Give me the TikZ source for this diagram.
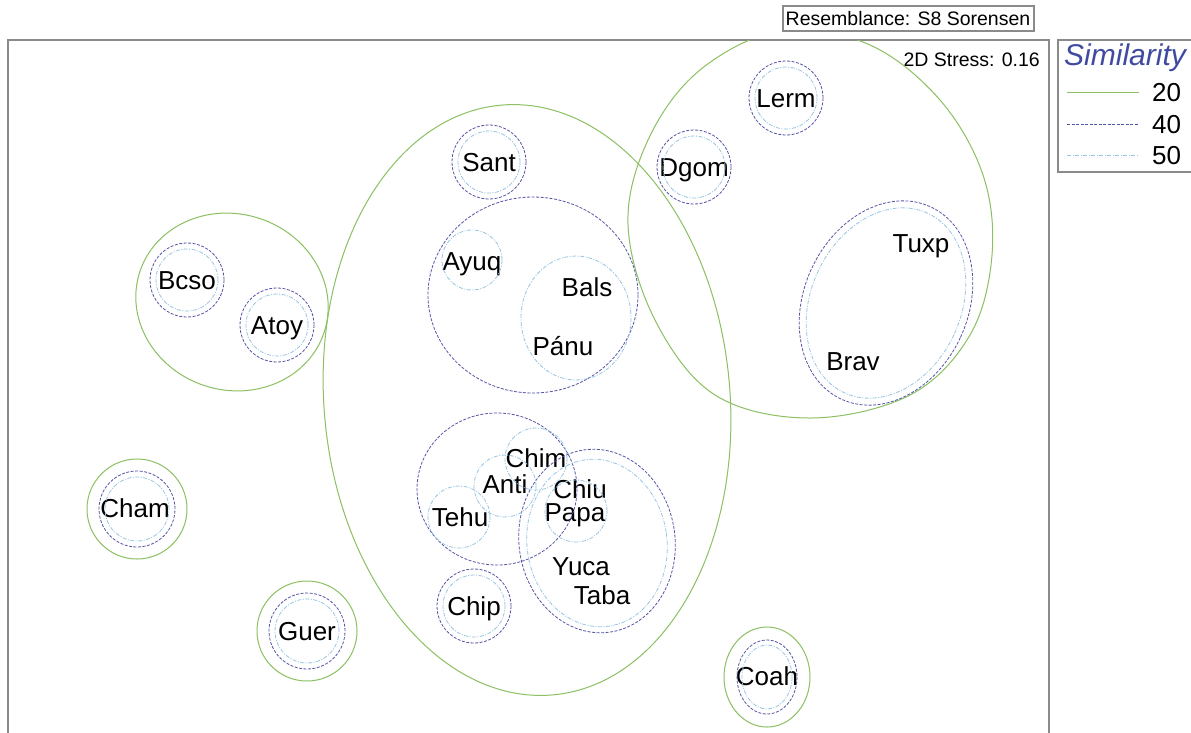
\documentclass[tikz,border=0pt]{standalone}
\usepackage{fontspec}
\setmainfont{Liberation Sans}
\definecolor{gsim}{HTML}{8CC063}
\definecolor{bsim}{HTML}{5555A8}
\definecolor{lsim}{HTML}{98C6E2}
\definecolor{simtitle}{HTML}{3F4AA0}
\definecolor{framec}{HTML}{8A8A8A}
\begin{document}
\begin{tikzpicture}[x=1pt,y=-1pt,
  lab/.style={inner sep=0pt,text height=18pt,text depth=0pt,font=\fontsize{26}{28}\selectfont},
  ginfo/.style={inner sep=0pt,font=\fontsize{19.5}{22}\selectfont},
  sim20/.style={draw=gsim,line width=1pt},
  sim40/.style={draw=bsim,line width=0.8pt,dash pattern=on 3pt off 1.5pt},
  sim50/.style={draw=lsim,line width=0.8pt,dash pattern=on 4pt off 1.5pt on 1pt off 1.5pt},
  boxc/.style={draw=framec,line width=1.2pt}]
\useasboundingbox (0,0) rectangle (1191,732);
\fill[white] (0,0) rectangle (1191,732);

% frame and boxes
\draw[boxc] (8,40) rectangle (1049,745);
\draw[boxc] (783,6) rectangle (1034,31);
\node[ginfo] (res) at (908,19) {Resemblance: S8 Sorensen};
\draw[boxc] (1058,40) rectangle (1200,172);
\node[ginfo,anchor=east] (stress) at (1040,60) {2D Stress: 0.16};
\node[inner sep=0pt,anchor=west,text=simtitle,font=\fontsize{30}{32}\selectfont\itshape] (simt) at (1064,58) {Similarity};
\coordinate (l1a) at (1067,92); \coordinate (l1b) at (1139,92);
\coordinate (l2a) at (1067,124); \coordinate (l2b) at (1139,124);
\coordinate (l3a) at (1067,155); \coordinate (l3b) at (1139,155);
\draw[sim20] (l1a) -- (l1b);
\draw[sim40] (l2a) -- (l2b);
\draw[sim50] (l3a) -- (l3b);
\node[lab,anchor=west] (n20) at (1152,92) {20};
\node[lab,anchor=west] (n40) at (1152,124) {40};
\node[lab,anchor=west] (n50) at (1152,155) {50};

% labels
\node[lab] (Lerm) at (786,98) {Lerm};
\node[lab] (Dgom) at (694,167) {Dgom};
\node[lab] (Sant) at (489,162) {Sant};
\node[lab] (Bcso) at (187,280) {Bcso};
\node[lab] (Atoy) at (277,325) {Atoy};
\node[lab] (Ayuq) at (472,261) {Ayuq};
\node[lab] (Bals) at (587,287) {Bals};
\node[lab] (Panu) at (563,346) {Pánu};
\node[lab] (Tuxp) at (921,243) {Tuxp};
\node[lab] (Brav) at (853,361) {Brav};
\node[lab] (Chim) at (536,458) {Chim};
\node[lab] (Anti) at (505,484) {Anti};
\node[lab] (Chiu) at (580,489) {Chiu};
\node[lab] (Tehu) at (460,517) {Tehu};
\node[lab] (Papa) at (575,512) {Papa};
\node[lab] (Cham) at (135,508) {Cham};
\node[lab] (Yuca) at (581,566) {Yuca};
\node[lab] (Taba) at (602,595) {Taba};
\node[lab] (Chip) at (474,606) {Chip};
\node[lab] (Guer) at (307,631) {Guer};
\node[lab] (Coah) at (767,676) {Coah};

\begin{scope}
\clip (8,40) rectangle (1049,732);
% similarity 20 contours
\draw[sim20] (232,302) ellipse[x radius=97,y radius=88,rotate=-18];
\draw[sim20,rotate around={5:(527,400)}] (527,400) ellipse[x radius=203,y radius=296];
\draw[sim20] plot[smooth cycle,tension=0.6] coordinates {(628,225) (648,140) (700,70) (783,30) (870,45) (940,100) (983,175) (992,255) (970,335) (910,395) (810,418) (715,395) (655,320)};
\draw[sim20] (137,509) circle[radius=50pt];
\draw[sim20] (307,631) circle[radius=50pt];
\draw[sim20] (767,677) ellipse[x radius=43,y radius=50];

% similarity 40 contours
\draw[sim40] (Lerm) circle[radius=37pt];
\draw[sim40] (Dgom) circle[radius=37pt];
\draw[sim40] (Sant) circle[radius=37pt];
\draw[sim40] (Bcso) circle[radius=37pt];
\draw[sim40] (Atoy) circle[radius=37pt];
\draw[sim40] (Chip) circle[radius=37pt];
\draw[sim40] (137,509) circle[radius=38pt];
\draw[sim40] (307,631) circle[radius=38pt];
\draw[sim40] (767,677) ellipse[x radius=30,y radius=37];
\draw[sim40] (533,295) ellipse[x radius=105,y radius=98];
\draw[sim40] (497,489) ellipse[x radius=80,y radius=76];
\draw[sim40,rotate around={8:(597,541)}] (597,541) ellipse[x radius=78,y radius=92];
\draw[sim40,rotate around={-25:(886,303)}] (886,303) ellipse[x radius=82,y radius=106];

% similarity 50 contours
\draw[sim50] (Lerm) circle[radius=31pt];
\draw[sim50] (Dgom) circle[radius=31pt];
\draw[sim50] (Sant) circle[radius=31pt];
\draw[sim50] (Bcso) circle[radius=31pt];
\draw[sim50] (Atoy) circle[radius=31pt];
\draw[sim50] (Chip) circle[radius=31pt];
\draw[sim50] (137,509) circle[radius=32pt];
\draw[sim50] (307,631) circle[radius=32pt];
\draw[sim50] (767,677) ellipse[x radius=25,y radius=32];
\draw[sim50] (472,260) circle[radius=30pt];
\draw[sim50] (576,318) ellipse[x radius=55,y radius=62];
\draw[sim50] (536,459) circle[radius=31pt];
\draw[sim50] (505,486) circle[radius=31pt];
\draw[sim50] (459,517) circle[radius=31pt];
\draw[sim50] (576,511) circle[radius=31pt];
\draw[sim50,rotate around={8:(597,543)}] (597,543) ellipse[x radius=70,y radius=84];
\draw[sim50,rotate around={-25:(886,303)}] (886,303) ellipse[x radius=75,y radius=99];
\end{scope}
\end{tikzpicture}
\end{document}
